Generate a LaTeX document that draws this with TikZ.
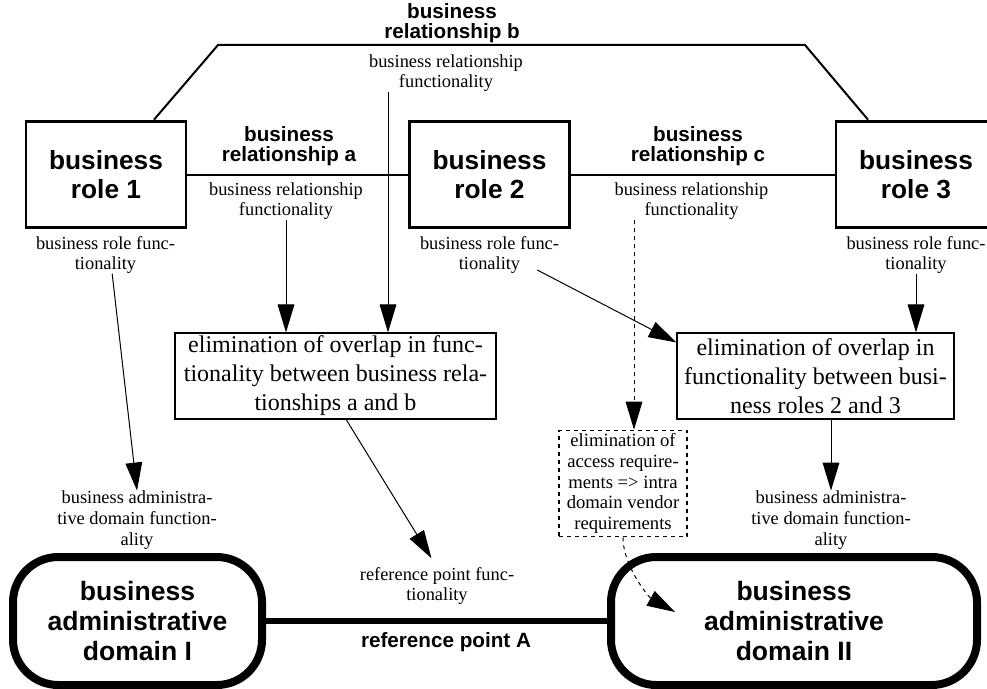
\documentclass[tikz,border=0pt]{standalone}
\usepackage{fontspec}
\setmainfont{Liberation Serif}
\setsansfont{Liberation Sans}
\usetikzlibrary{arrows.meta, calc}

\tikzset{
  role/.style={draw, line width=2.2pt, minimum width=120pt, minimum height=80pt, align=center, font=\sffamily\bfseries\fontsize{19.7}{22}\selectfont},
  relname/.style={inner sep=0pt, align=center, font=\sffamily\bfseries\fontsize{15.5}{14.5}\selectfont},
  func/.style={inner sep=0pt, align=center, font=\fontsize{13.8}{15}\selectfont},
  elimbox/.style={draw, line width=0.8pt, inner sep=0pt, align=center, minimum height=64.5pt, font=\fontsize{18}{21.75}\selectfont},
  accbox/.style={draw, dashed, line width=0.8pt, inner sep=0pt, align=center, minimum width=96pt, minimum height=80pt, font=\fontsize{14}{15.6}\selectfont},
  admdomain/.style={draw, line width=6pt, rounded corners=34pt, align=center, minimum height=96pt, font=\sffamily\bfseries\fontsize{19.9}{22.5}\selectfont},
  rel/.style={line width=1.5pt},
  arr/.style={-{Triangle[length=21pt,width=12.5pt]}, line width=0.75pt},
  darr/.style={arr, dashed}
}

\begin{document}
\begin{tikzpicture}[x=0.75pt,y=-0.75pt]
\useasboundingbox (0,0) rectangle (987,688);

% business roles
\node[role] (role1) at (106,174.5) {business\\role 1};
\node[role] (role2) at (489.5,174.5) {business\\role 2};
\node[role] (role3) at (916,174.5) {business\\role 3};

% business relationships
\draw[rel] (role1) -- (role2);
\draw[rel] (role2) -- (role3);
\coordinate (bl) at (218,45);
\coordinate (br) at (805,45);
\draw[rel] ([xshift=36pt]role1.north) -- (bl) -- (br) -- ([xshift=-36pt]role3.north);

\node[relname] (rela) at (289,146) {business\\relationship a};
\node[relname] (relb) at (452,23) {business\\relationship b};
\node[relname] (relc) at (698,146) {business\\relationship c};

\node[func] (rfa) at (286,201) {business relationship\\functionality};
\node[func] (rfb) at (446,73) {business relationship\\functionality};
\node[func] (rfc) at (691.5,201) {business relationship\\functionality};

\node[func] (rf1) at (105.5,255) {business role func-\\tionality};
\node[func] (rf2) at (489.5,255) {business role func-\\tionality};
\node[func] (rf3) at (916,255) {business role func-\\tionality};

% elimination boxes
\node[elimbox, minimum width=240.75pt] (elima) at (335.5,376) {elimination of overlap in func-\\tionality between business rela-\\tionships a and b};
\node[elimbox, minimum width=207.75pt] (elimb) at (815.5,376) {elimination of overlap in\\functionality between busi-\\ness roles 2 and 3};
\node[accbox] (acc) at (623,483.5) {elimination of\\access require-\\ments => intra\\domain vendor\\requirements};

\node[func, font=\fontsize{13.8}{15.6}\selectfont] (adf1) at (137,520) {business administra-\\tive domain function-\\ality};
\node[func, font=\fontsize{13.8}{15.6}\selectfont] (adf2) at (831,520) {business administra-\\tive domain function-\\ality};
\node[func] (rpf) at (437,586) {reference point func-\\tionality};

% administrative domains
\node[admdomain, minimum width=186.75pt] (dom1) at (137.5,621) {business\\administrative\\domain I};
\node[admdomain, minimum width=274.5pt] (dom2) at (794,621) {business\\administrative\\domain II};
\draw[line width=5pt] (dom1) -- (dom2);
\node[relname] (rpa) at (446,642) {reference point A};

% arrows
\draw[arr] ([xshift=5pt]rf1.south) -- (adf1.north);
\draw[arr] (rfa.south) -- (rfa.south |- elima.north);
\draw[arr] ([xshift=-43.5pt]rfb.south) -- ([xshift=-43.5pt]rfb.south |- elima.north);
\draw[arr, shorten >=8pt] ([xshift=8pt]elima.south) -- (rpf.north);
\draw[arr] ([shift={(-16.5pt,-11.25pt)}]rf2.east) -- ([yshift=-7.5pt]elimb.north west);
\draw[arr] (rf3.south) -- (rf3.south |- elimb.north);
\draw[arr] (elimb.south -| adf2.north) -- (adf2.north);

\coordinate (ctop) at ($(acc.north)+(11,0)$);
\coordinate (d2in) at ($(dom2.center)+(-119,-9)$);
\draw[darr] (ctop |- rfc.south) -- (ctop);
\draw[darr] (acc.south) .. controls +(0,30) and +(-25,-14) .. (d2in);

\end{tikzpicture}
\end{document}
